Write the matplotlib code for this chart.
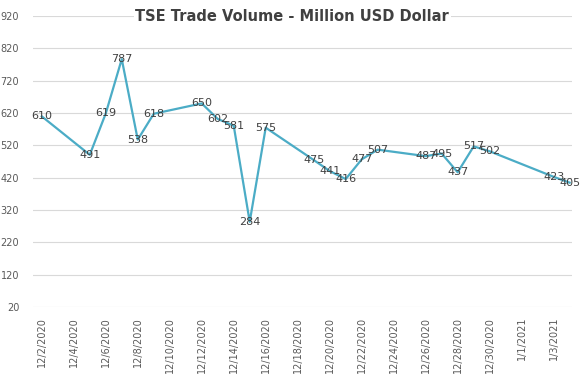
import pandas as pd
import matplotlib.pyplot as plt
import matplotlib.dates as mdates

# --- data ---
dates = ["2020-12-02", "2020-12-05", "2020-12-06", "2020-12-07", "2020-12-08",
         "2020-12-09", "2020-12-12", "2020-12-13", "2020-12-14", "2020-12-15",
         "2020-12-16", "2020-12-19", "2020-12-20", "2020-12-21", "2020-12-22",
         "2020-12-23", "2020-12-26", "2020-12-27", "2020-12-28", "2020-12-29",
         "2020-12-30", "2021-01-03", "2021-01-04"]
volume = [610, 491, 619, 787, 538, 618, 650, 602, 581, 284, 575, 475, 441,
          416, 477, 507, 487, 495, 437, 517, 502, 423, 405]
yticks = list(range(20, 921, 100))

dates = pd.to_datetime(dates)

fig = plt.figure(figsize=(5.81, 3.75), dpi=100)
ax = fig.add_axes([0.057, 0.181, 0.928, 0.776])

ax.plot(dates, volume, color="#4BACC6", linewidth=1.6, zorder=3)
for d, v in zip(dates, volume):
    ax.text(d, v, str(v), ha="center", va="center", fontsize=8,
            color="#404040", zorder=4)

ax.set_ylim(20, 920)
ax.set_yticks(yticks)
ax.set_xlim(dates[0] - pd.Timedelta(hours=13), dates[-1] + pd.Timedelta(hours=4))
ax.xaxis.set_major_locator(mdates.DayLocator(interval=2, bymonthday=range(2, 32)))
ax.set_xticks(pd.date_range("2020-12-02", "2021-01-03", freq="2D"))
ax.xaxis.set_major_formatter(mdates.DateFormatter("%-m/%-d/%Y"))
plt.setp(ax.get_xticklabels(), rotation=90)

ax.grid(axis="y", color="#D9D9D9", linewidth=0.8)
for s in ax.spines.values():
    s.set_visible(False)
ax.tick_params(length=0, labelsize=7, labelcolor="#595959")
ax.tick_params(axis="y", pad=10)
ax.tick_params(axis="x", pad=7)

fig.text(0.503, 0.957, "TSE Trade Volume - Million USD Dollar", ha="center",
         va="center", fontsize=10.5, fontweight="bold", color="#404040",
         bbox=dict(facecolor="white", edgecolor="none", pad=1))

fig.savefig("out.png", dpi=100)
